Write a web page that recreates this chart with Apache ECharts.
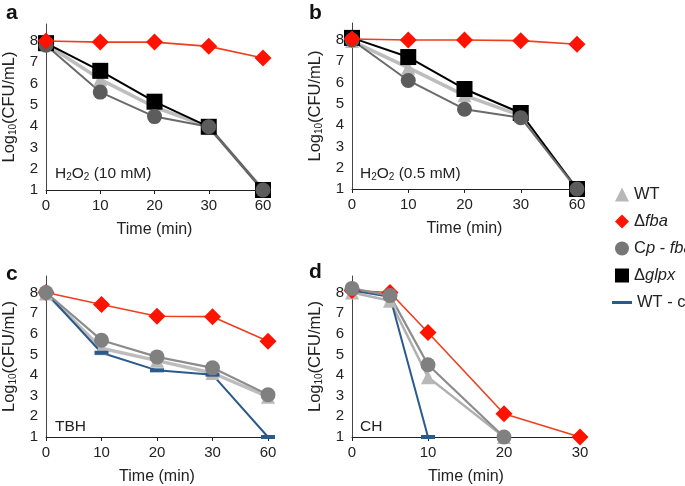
<!DOCTYPE html>
<html><head><meta charset="utf-8">
<script src="https://cdn.jsdelivr.net/npm/echarts@6/dist/echarts.min.js"></script>
<style>html,body{margin:0;padding:0;background:#fff}#c{width:685px;height:486px}</style>
</head><body><div id="c"></div>
<script>
// x categories for panels a-c, numeric times for panel d
const timesABC = ['0', '10', '20', '30', '60'];
const timesD = [0, 5, 10, 20, 30];
const yTicks = [1, 2, 3, 4, 5, 6, 7, 8];

// Panel a: H2O2 (10 mM)
const aWT   = [7.85, 6.2, 4.9, 3.97, 1];
const aFba  = [8.0, 7.95, 7.95, 7.75, 7.2];
const aCp   = [7.8, 5.6, 4.45, 3.97, 1];
const aGlpx = [7.9, 6.6, 5.15, 3.97, 1];

// Panel b: H2O2 (0.5 mM)
const bWT   = [7.95, 6.7, 5.4, 4.45, 1];
const bFba  = [8.05, 8.0, 8.0, 7.97, 7.8];
const bCp   = [8.0, 6.1, 4.75, 4.35, 1];
const bGlpx = [8.1, 7.2, 5.7, 4.57, 1];

// Panel c: TBH
const cWT   = [7.95, 5.3, 4.7, 4.1, 2.95];
const cFba  = [8.0, 7.42, 6.85, 6.83, 5.64];
const cCp   = [8.0, 5.69, 4.88, 4.35, 3.05];
const cWTcp = [8.0, 5.08, 4.23, 4.02, 1];

// Panel d: CH (x = timesD)
const dWT   = [8.0, 7.6, 3.9, 1, null];
const dFba  = [8.1, 8.0, 6.06, 2.13, 1];
const dCp   = [8.2, 7.85, 4.5, 1, null];
const dWTcp = [8.1, 7.8, 1, null, null];

const FONT = 'Liberation Sans, Arial, Helvetica, sans-serif';
const pairs = (xs, ys) => xs.map((x, i) => [x, ys[i]]).filter(p => p[1] != null);

const grids = [
  {left: 46, top: 24, width: 217, height: 166},
  {left: 352, top: 23, width: 225, height: 166},
  {left: 46, top: 276, width: 222, height: 161},
  {left: 352, top: 276, width: 228, height: 161}
];

function yAxis(i) {
  return {
    gridIndex: i, type: 'value', min: 1, max: 8.8, interval: 1,
    name: 'Log{sub|10}(CFU/mL)', nameLocation: 'middle', nameGap: 28,
    nameTextStyle: {fontFamily: FONT, fontSize: 16.5, color: '#222',
      rich: {sub: {fontFamily: FONT, fontSize: 10, color: '#222', verticalAlign: 'bottom', padding: [7, 0, 0, 0]}}},
    axisLine: {show: true, lineStyle: {color: '#444', width: 1}},
    axisTick: {show: false},
    splitLine: {show: false},
    axisLabel: {fontFamily: FONT, fontSize: 15, color: '#222', margin: 8, showMaxLabel: false,
      formatter: v => (Number.isInteger(v) ? String(v) : '')}
  };
}
function xAxisCat(i) {
  return {
    gridIndex: i, type: 'category', data: timesABC, boundaryGap: false,
    name: 'Time (min)', nameLocation: 'middle', nameGap: 32,
    nameTextStyle: {fontFamily: FONT, fontSize: 16, color: '#222'},
    axisLine: {onZero: false, lineStyle: {color: '#222', width: 1}},
    axisTick: {show: true, alignWithLabel: true, length: 4, lineStyle: {color: '#222'}},
    axisLabel: {fontFamily: FONT, fontSize: 15, color: '#222', margin: 8}
  };
}
const xAxisD = {
  gridIndex: 3, type: 'value', min: 0, max: 30, interval: 10,
  name: 'Time (min)', nameLocation: 'middle', nameGap: 32,
  nameTextStyle: {fontFamily: FONT, fontSize: 16, color: '#222'},
  axisLine: {onZero: false, lineStyle: {color: '#222', width: 1}},
  axisTick: {show: true, length: 4, lineStyle: {color: '#222'}},
  splitLine: {show: false},
  axisLabel: {fontFamily: FONT, fontSize: 15, color: '#222', margin: 8}
};

const styles = {
  WT:    {symbol: 'triangle', symbolSize: 14, itemStyle: {color: '#b8b8b8'}, lineStyle: {color: '#bdbdbd', width: 3.5}},
  fba:   {symbol: 'diamond', symbolSize: 17, itemStyle: {color: '#ff1200'}, lineStyle: {color: '#ec3f1e', width: 1.6}},
  cpDark:{symbol: 'circle', symbolSize: 15, itemStyle: {color: '#5c5c5c'}, lineStyle: {color: '#6a6a6a', width: 2}},
  cpLight:{symbol: 'circle', symbolSize: 15, itemStyle: {color: '#808080'}, lineStyle: {color: '#8c8c8c', width: 2.2}},
  glpx:  {symbol: 'rect', symbolSize: 16, itemStyle: {color: '#000'}, lineStyle: {color: '#000', width: 2}},
  wtcp:  {symbol: 'rect', symbolSize: [14, 4], itemStyle: {color: '#2b5a8c'}, lineStyle: {color: '#2b5a8c', width: 2}}
};
const NAMES = {WT: 'WT', fba: 'Δfba', cp: 'Cp - fba', glpx: 'Δglpx', wtcp: 'WT - cp'};

function s(name, style, i, data) {
  return Object.assign({
    type: 'line', name: name, xAxisIndex: i, yAxisIndex: i, data: data,
    showSymbol: true, showAllSymbol: true, animation: false, emphasis: {disabled: true}
  }, style);
}

const series = [
  // panel a
  s(NAMES.WT, styles.WT, 0, aWT),
  s(NAMES.glpx, styles.glpx, 0, aGlpx),
  s(NAMES.cp, styles.cpDark, 0, aCp),
  s(NAMES.fba, styles.fba, 0, aFba),
  // panel b
  s(NAMES.WT, styles.WT, 1, bWT),
  s(NAMES.glpx, styles.glpx, 1, bGlpx),
  s(NAMES.cp, styles.cpDark, 1, bCp),
  s(NAMES.fba, styles.fba, 1, bFba),
  // panel c
  s(NAMES.WT, styles.WT, 2, cWT),
  s(NAMES.fba, styles.fba, 2, cFba),
  s(NAMES.wtcp, styles.wtcp, 2, cWTcp),
  s(NAMES.cp, styles.cpLight, 2, cCp),
  // panel d
  s(NAMES.WT, Object.assign({}, styles.WT, {lineStyle: {color: '#b0b0b0', width: 2.5}}), 3, pairs(timesD, dWT)),
  s(NAMES.fba, styles.fba, 3, pairs(timesD, dFba)),
  s(NAMES.wtcp, styles.wtcp, 3, pairs(timesD, dWTcp)),
  s(NAMES.cp, styles.cpLight, 3, pairs(timesD, dCp))
];

const legendRich = {
  n: {fontFamily: FONT, fontSize: 16.5, color: '#222'},
  i: {fontFamily: FONT, fontSize: 16.5, color: '#222', fontStyle: 'italic'}
};
const legendFmt = {
  'WT': '{n|WT}',
  'Δfba': '{n|Δ}{i|fba}',
  'Cp - fba': '{n|C}{i|p}{n| - }{i|fba}',
  'Δglpx': '{n|Δ}{i|glpx}',
  'WT - cp': '{n|WT - cp}'
};

const panelLabel = (t, l, tp) => ({text: t, left: l, top: tp,
  textStyle: {fontFamily: FONT, fontSize: 21, fontWeight: 'bold', color: '#111'}});
const innerLabel = (t, l, tp) => ({text: t, left: l, top: tp,
  textStyle: {fontFamily: FONT, fontSize: 15.5, fontWeight: 'normal', color: '#222',
    rich: {n: {fontFamily: FONT, fontSize: 15.5, color: '#222'},
           sub: {fontFamily: FONT, fontSize: 10, color: '#222', padding: [7, 0, 0, 0]}}}});

const option = {
  backgroundColor: '#fff',
  animation: false,
  title: [
    panelLabel('a', 1, -2), panelLabel('b', 304, -2),
    panelLabel('c', 1, 259), panelLabel('d', 304, 257),
    innerLabel('{n|H}{sub|2}{n|O}{sub|2}{n| (10 mM)}', 50, 160),
    innerLabel('{n|H}{sub|2}{n|O}{sub|2}{n| (0.5 mM)}', 355, 160),
    innerLabel('TBH', 50, 414),
    innerLabel('CH', 355, 414)
  ],
  legend: [
    {orient: 'vertical', left: 610, top: 181, itemWidth: 14, itemHeight: 14, itemGap: 10,
     selectedMode: false,
     data: [
       {name: NAMES.WT, icon: 'triangle', itemStyle: {color: '#b8b8b8'}},
       {name: NAMES.fba, icon: 'diamond', itemStyle: {color: '#ff1200'}},
       {name: NAMES.cp, icon: 'circle', itemStyle: {color: '#777'}},
       {name: NAMES.glpx, icon: 'rect', itemStyle: {color: '#000', borderWidth: 0}}
     ],
     formatter: n => legendFmt[n],
     textStyle: {fontFamily: FONT, fontSize: 16.5, color: '#222', rich: legendRich}},
    {orient: 'vertical', left: 607, top: 289, itemWidth: 20, itemHeight: 3, itemGap: 8,
     selectedMode: false,
     data: [{name: NAMES.wtcp, icon: 'rect', itemStyle: {color: '#2b5a8c'}}],
     formatter: n => legendFmt[n],
     textStyle: {fontFamily: FONT, fontSize: 16.5, color: '#222', rich: legendRich}}
  ],
  grid: grids,
  xAxis: [xAxisCat(0), xAxisCat(1), xAxisCat(2), xAxisD],
  yAxis: [yAxis(0), yAxis(1), yAxis(2), yAxis(3)],
  series: series
};

const chart = echarts.init(document.getElementById('c'), null, {renderer: 'canvas'});
chart.setOption(option);
</script>
</body></html>
